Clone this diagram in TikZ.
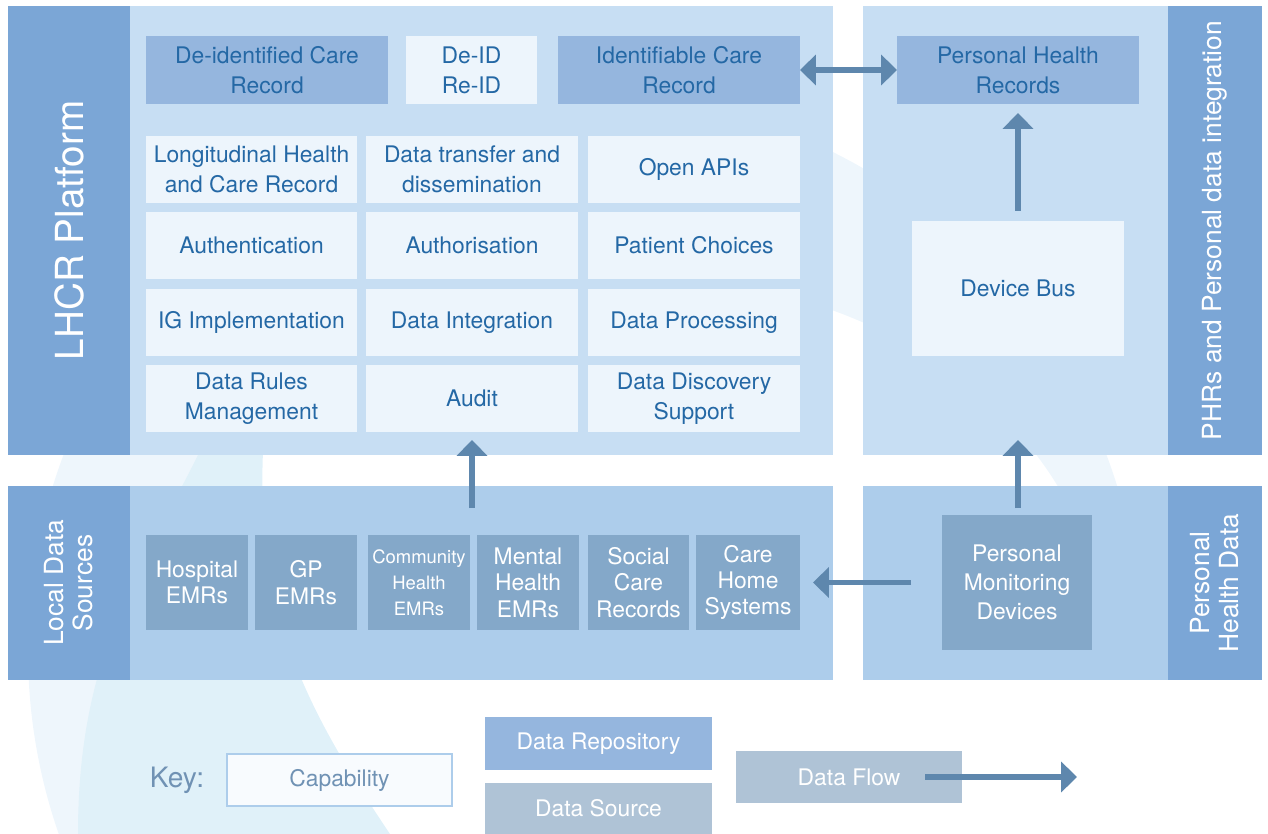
\documentclass[tikz,border=0pt]{standalone}
\usepackage{fontspec}
\setmainfont{TeX Gyre Heros}
\usetikzlibrary{arrows.meta,positioning}

\definecolor{barrecol}{HTML}{7BA6D6}
\definecolor{hautcol}{HTML}{C7DEF3}
\definecolor{bascol}{HTML}{ADCDEB}
\definecolor{depotcol}{HTML}{95B6DE}
\definecolor{capacol}{HTML}{EDF5FC}
\definecolor{sourcecol}{HTML}{84A8C9}
\definecolor{clecol}{HTML}{AFC3D6}
\definecolor{flechecol}{HTML}{5E87AD}
\definecolor{texte}{HTML}{2468A5}
\definecolor{textecle}{HTML}{7092B4}
\definecolor{fondA}{HTML}{EEF6FC}
\definecolor{fondB}{HTML}{E0F1F9}

\begin{document}
\begin{tikzpicture}[x=0.02cm,y=-0.02cm,
  bloc/.style 2 args={minimum width=#1*0.02cm,minimum height=#2*0.02cm,inner sep=0pt,outer sep=0pt,align=center},
  capa/.style={fill=capacol,text=texte,font=\fontsize{13}{17}\selectfont},
  depot/.style={fill=depotcol,text=texte,font=\fontsize{13}{17}\selectfont},
  srcbox/.style={fill=sourcecol,text=white,font=\fontsize{13}{15}\selectfont},
  barre/.style={fill=barrecol,text=white,rotate=90},
  fleche/.style={draw=flechecol,line width=3.4pt,-{Triangle[length=9pt,width=17pt]}},
  flechedbl/.style={draw=flechecol,line width=3.4pt,{Triangle[length=9pt,width=17pt]}-{Triangle[length=9pt,width=17pt]}},
]
\path[use as bounding box] (0,0) rectangle (1268,834);

% fond
\begin{scope}
\clip (0,0) -- (1268,0) -- (1268,490) -- (700,490) -- (700,834) -- (0,834) -- cycle;
\fill[fondA,even odd rule] (585,651) circle [radius=557] (645,651) ellipse [x radius=460, y radius=373];
\fill[fondB] (215,420) .. controls (150,560) and (78,640) .. (78,834) -- (390,834) .. controls (300,700) and (250,600) .. (265,420) -- cycle;
\end{scope}

% panneaux
\node[bloc={703}{449},fill=hautcol] (lhcr) at (481.5,230.5) {};
\node[barre,bloc={449}{122},font=\fontsize{22}{26}\selectfont] (lhcrbar) at (69,230.5) {LHCR Platform};
\node[bloc={305}{449},fill=hautcol] (perso) at (1015.5,230.5) {};
\node[barre,bloc={449}{94},font=\fontsize{15}{17}\selectfont] (persobar) at (1215,230.5) {PHRs and Personal data integration};
\node[bloc={703}{194},fill=bascol] (local) at (481.5,583) {};
\node[barre,bloc={194}{122},font=\fontsize{15}{16.5}\selectfont] (localbar) at (69,583) {Local Data\\Sources};
\node[bloc={305}{194},fill=bascol] (phd) at (1015.5,583) {};
\node[barre,bloc={194}{94},font=\fontsize{15}{16.5}\selectfont] (phdbar) at (1215,583) {Personal\\Health Data};

% depots
\node[depot,bloc={242}{68}] (deid) at (267,70) {De-identified Care\\Record};
\node[capa,bloc={131}{68}] (reid) at (471.5,70) {De-ID\\Re-ID};
\node[depot,bloc={242}{68}] (idcare) at (679,70) {Identifiable Care\\Record};
\node[depot,bloc={242}{68}] (phr) at (1018,70) {Personal Health\\Records};

% capacites
\node[capa,bloc={211}{67}] (lhcrec) at (251.5,169.5) {Longitudinal Health\\and Care Record};
\node[capa,bloc={212}{67}] (transfer) at (472,169.5) {Data transfer and\\dissemination};
\node[capa,bloc={212}{67}] (apis) at (694,169.5) {Open APIs};
\node[capa,bloc={211}{67}] (authn) at (251.5,245.5) {Authentication};
\node[capa,bloc={212}{67}] (authz) at (472,245.5) {Authorisation};
\node[capa,bloc={212}{67}] (choices) at (694,245.5) {Patient Choices};
\node[capa,bloc={211}{67}] (ig) at (251.5,322.5) {IG Implementation};
\node[capa,bloc={212}{67}] (integ) at (472,322.5) {Data Integration};
\node[capa,bloc={212}{67}] (process) at (694,322.5) {Data Processing};
\node[capa,bloc={211}{67}] (rules) at (251.5,398.5) {Data Rules\\Management};
\node[capa,bloc={212}{67}] (audit) at (472,398.5) {Audit};
\node[capa,bloc={212}{67}] (discov) at (694,398.5) {Data Discovery\\Support};
\node[capa,bloc={212}{135}] (devbus) at (1018,288.5) {Device Bus};

% sources
\node[srcbox,bloc={102}{95}] (hosp) at (197,582.5) {Hospital\\EMRs};
\node[srcbox,bloc={102}{95}] (gp) at (306,582.5) {GP\\EMRs};
\node[srcbox,bloc={102}{95},font=\fontsize{10.5}{14.7}\selectfont] (commu) at (419,582.5) {Community\\Health\\EMRs};
\node[srcbox,bloc={102}{95}] (mental) at (528,582.5) {Mental\\Health\\EMRs};
\node[srcbox,bloc={101}{95}] (social) at (638.5,582.5) {Social\\Care\\Records};
\node[srcbox,bloc={104}{95}] (carehome) at (748,582.5) {Care\\Home\\Systems};
\node[srcbox,bloc={150}{135},font=\fontsize{13}{16.5}\selectfont] (pmd) at (1017,582.5) {Personal\\Monitoring\\Devices};

% flux
\coordinate (locout) at (472,508);
\coordinate (lhcrin) at (472,440);
\coordinate (pmdout) at (1018,508);
\coordinate (persoin) at (1018,440);
\draw[flechedbl] (idcare.east) -- (phr.west);
\draw[fleche,shorten <=10*0.02cm,shorten >=9*0.02cm] (devbus.north) -- (phr.south);
\draw[fleche] (locout) -- (lhcrin);
\draw[fleche] (pmdout) -- (persoin);
\draw[fleche,shorten <=31*0.02cm,shorten >=13*0.02cm] (pmd.west) -- (carehome.east);

% legende
\node[text=textecle,font=\fontsize{16}{18}\selectfont] (key) at (177,780) {Key:};
\node[bloc={225}{52},fill=white!60!capacol,draw=bascol,line width=1.2pt,text=textecle,font=\fontsize{13}{15}\selectfont] (keycapa) at (339.5,780) {Capability};
\node[bloc={227}{53},fill=depotcol,text=white,font=\fontsize{13}{15}\selectfont] (keydepot) at (598.5,743.5) {Data Repository};
\node[bloc={227}{51},fill=clecol,text=white,font=\fontsize{13}{15}\selectfont] (keysrc) at (598.5,808.5) {Data Source};
\node[bloc={226}{52},fill=clecol,text=white,font=\fontsize{13}{15}\selectfont] (keyflux) at (849,777) {Data Flow};
\coordinate (keyflux0) at (925,777);
\coordinate (keyflux1) at (1077,777);
\draw[fleche] (keyflux0) -- (keyflux1);
\end{tikzpicture}
\end{document}
